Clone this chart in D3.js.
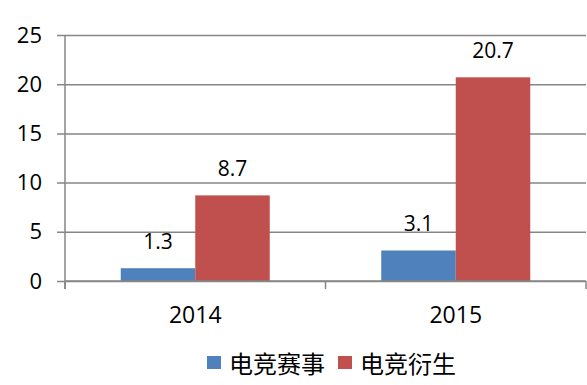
<!DOCTYPE html>
<html>
<head>
<meta charset="utf-8">
<script src="https://cdn.jsdelivr.net/npm/d3@7"></script>
<style>
  body { margin: 0; background: #fff; }
  svg { display: block; }
</style>
</head>
<body>
<svg id="chart" width="587" height="385"></svg>
<script>
const years = ['2014', '2015'];
const seriesNames = ['电竞赛事', '电竞衍生'];
const eventValues = [1.3, 3.1];
const derivValues = [8.7, 20.7];
const yTicks = [0, 5, 10, 15, 20, 25];
const colors = ['#4F81BD', '#C0504D'];

const margin = {top: 35, right: 1, bottom: 104, left: 65};
const width = 587, height = 385;
const innerW = width - margin.left - margin.right;
const innerH = height - margin.top - margin.bottom;

const rows = years.map((y, i) => ({year: y, values: [eventValues[i], derivValues[i]]}));

const svg = d3.select('#chart');
const g = svg.append('g').attr('transform', `translate(${margin.left},${margin.top})`);

const x = d3.scaleBand().domain(years).range([0, innerW]).paddingInner(0).paddingOuter(0);
const xInner = d3.scaleBand().domain([0, 1]).range([x.bandwidth() * 0.214, x.bandwidth() * 0.786]);
const y = d3.scaleLinear().domain([0, 25]).range([innerH, 0]);

// gridlines + y axis
const yAxis = g.append('g')
  .call(d3.axisLeft(y).tickValues(yTicks).tickSize(8).tickPadding(15));
yAxis.select('.domain').remove();
yAxis.selectAll('line').attr('stroke', '#868686').attr('stroke-width', 1.5)
  .attr('x2', innerW).attr('x1', -8);
yAxis.selectAll('text').attr('font-family', 'Open Sans, sans-serif').attr('font-size', 22).attr('fill', '#000');

g.append('line').attr('x1', 0).attr('x2', 0).attr('y1', 0).attr('y2', innerH + 8)
  .attr('stroke', '#868686').attr('stroke-width', 1.5);

// bars
const groups = g.selectAll('.grp').data(rows).join('g')
  .attr('transform', d => `translate(${x(d.year)},0)`);

groups.selectAll('rect').data(d => d.values).join('rect')
  .attr('x', (d, i) => xInner(i))
  .attr('y', d => y(d))
  .attr('width', xInner.bandwidth())
  .attr('height', d => y(0) - y(d))
  .attr('fill', (d, i) => colors[i]);

groups.selectAll('text').data(d => d.values).join('text')
  .attr('x', (d, i) => xInner(i) + xInner.bandwidth() / 2)
  .attr('y', d => y(d) - 19)
  .attr('text-anchor', 'middle')
  .attr('font-family', 'Open Sans, sans-serif').attr('font-size', 21)
  .attr('fill', '#000')
  .text(d => d);

// x axis
const xAxis = g.append('g').attr('transform', `translate(0,${innerH})`)
  .call(d3.axisBottom(x).tickSize(0).tickPadding(26));
xAxis.select('.domain').remove();
xAxis.selectAll('text').attr('font-family', 'Open Sans, sans-serif').attr('font-size', 23).attr('fill', '#000');
g.append('line').attr('x1', 0).attr('x2', innerW).attr('y1', innerH).attr('y2', innerH)
  .attr('stroke', '#868686').attr('stroke-width', 1.5);
g.selectAll('.xtick').data([0, ...years.map(d => x(d) + x.bandwidth())]).join('line')
  .attr('x1', d => d).attr('x2', d => d).attr('y1', innerH).attr('y2', innerH + 8)
  .attr('stroke', '#868686').attr('stroke-width', 1.5);

// legend
const legendX = [207, 338];
const legend = svg.append('g');
seriesNames.forEach((name, i) => {
  legend.append('rect').attr('x', legendX[i]).attr('y', 356).attr('width', 14).attr('height', 13).attr('fill', colors[i]);
  legend.append('text').attr('x', legendX[i] + 22).attr('y', 362).attr('dominant-baseline', 'central')
    .attr('font-family', 'Noto Sans CJK SC, sans-serif').attr('font-size', 24).attr('fill', '#000')
    .text(name);
});
</script>
</body>
</html>
